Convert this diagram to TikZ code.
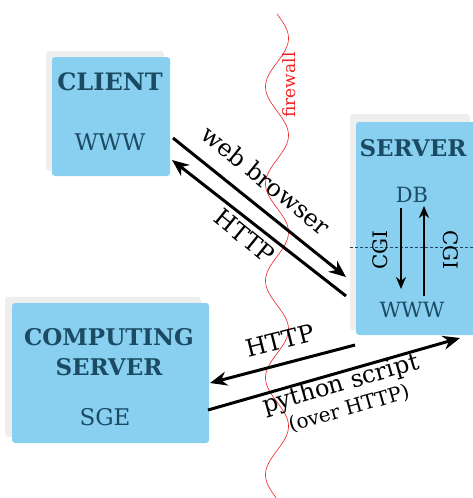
\documentclass[tikz,border=0pt]{standalone}
\usepackage{fontspec}
\setmainfont{DejaVu Serif}
\usetikzlibrary{arrows.meta}
\definecolor{boxblue}{HTML}{89CFF0}
\definecolor{boxtext}{HTML}{1B4B63}
\definecolor{shadowgray}{HTML}{EEEEEE}
\definecolor{fwred}{HTML}{F02020}
\begin{document}
\begin{tikzpicture}[x=1pt,y=-1pt,
  card/.style={fill=boxblue, rounded corners=3pt, draw=none, inner sep=0pt},
  cardshadow/.style={fill=shadowgray, rounded corners=3pt, draw=none, inner sep=0pt},
  titletext/.style={text=boxtext, font=\bfseries\fontsize{23}{30}\selectfont, align=center, inner sep=0pt},
  subtext/.style={text=boxtext, font=\fontsize{22}{26}\selectfont, inner sep=0pt},
  lbl/.style={text=black, font=\fontsize{24}{28}\selectfont, inner sep=0pt},
  smalllbl/.style={text=black, font=\fontsize{20}{24}\selectfont, inner sep=0pt},
  flow/.style={line width=3pt, -{Stealth[length=17pt,width=14pt]}},
  inflow/.style={line width=2pt, -{Stealth[length=12pt,width=10pt]}},
]
\useasboundingbox (0,0) rectangle (473,498);
\clip (0,0) rectangle (473,498);

% firewall
\draw[fwred, line width=0.6pt] plot[domain=14:498, samples=240, variable=\t] ({277+11.5*sin(3.71134*(\t-14))}, \t);
\node[text=fwred, font=\fontsize{17}{20}\selectfont, rotate=90, inner sep=0pt] (fwlabel) at (289,85) {firewall};

% client
\node[cardshadow, minimum width=118pt, minimum height=120pt] (clientshadow) at (105,111) {};
\node[card, minimum width=118pt, minimum height=119pt] (client) at (111,116.5) {};
\node[titletext, font=\bfseries\fontsize{24}{28}\selectfont] (clienttitle) at (110,82) {CLIENT};
\node[subtext, font=\fontsize{23}{26}\selectfont] (clientwww) at (110,142) {WWW};

% server
\node[cardshadow, minimum width=120pt, minimum height=216pt] (servershadow) at (410,222) {};
\node[card, minimum width=124pt, minimum height=213pt] (server) at (418,228.5) {};
\node[titletext] (servertitle) at (413,148) {SERVER};
\node[subtext, font=\fontsize{21}{24}\selectfont] (db) at (412,195) {DB};
\node[subtext, font=\fontsize{21}{24}\selectfont] (serverwww) at (412,310) {WWW};
\coordinate (dashL) at (350,247);
\coordinate (dashR) at (473,247);
\draw[boxtext, line width=0.7pt, dash pattern=on 3pt off 2pt] (dashL) -- (dashR);
\coordinate (cgiDownA) at (401,208);
\coordinate (cgiDownB) at (401,289);
\coordinate (cgiUpA) at (424,296);
\coordinate (cgiUpB) at (424,206);
\draw[inflow] (cgiDownA) -- (cgiDownB);
\draw[inflow] (cgiUpA) -- (cgiUpB);
\node[smalllbl, rotate=90] (cgileft) at (380,250) {CGI};
\node[smalllbl, rotate=-90] (cgiright) at (451,250) {CGI};

% computing server
\node[cardshadow, minimum width=196pt, minimum height=140pt] (compshadow) at (103,367) {};
\node[card, minimum width=197pt, minimum height=140pt] (comp) at (110.5,373) {};
\node[titletext] (comptitle) at (109,352) {COMPUTING\\SERVER};
\node[subtext, font=\fontsize{23}{26}\selectfont] (sge) at (105,417) {SGE};

% client <-> server
\coordinate (wbA) at (173,138);
\coordinate (wbB) at (346,277);
\coordinate (htA) at (346,296);
\coordinate (htB) at (172,160);
\draw[flow] (wbA) -- (wbB);
\draw[flow] (htA) -- (htB);
\node[lbl, rotate=-39] (wblabel) at (266,180) {web browser};
\node[lbl, rotate=-39] (htlabel) at (245,236) {HTTP};

% computing <-> server
\coordinate (h2A) at (355,345);
\coordinate (h2B) at (210,383);
\coordinate (pyA) at (208,410);
\coordinate (pyB) at (460,338);
\draw[flow] (h2A) -- (h2B);
\draw[flow] (pyA) -- (pyB);
\node[lbl, rotate=14] (h2label) at (280,341) {HTTP};
\node[lbl, rotate=16] (pylabel) at (341,385) {python script};
\node[smalllbl, rotate=16] (overlabel) at (349,409) {(over HTTP)};
\end{tikzpicture}
\end{document}
